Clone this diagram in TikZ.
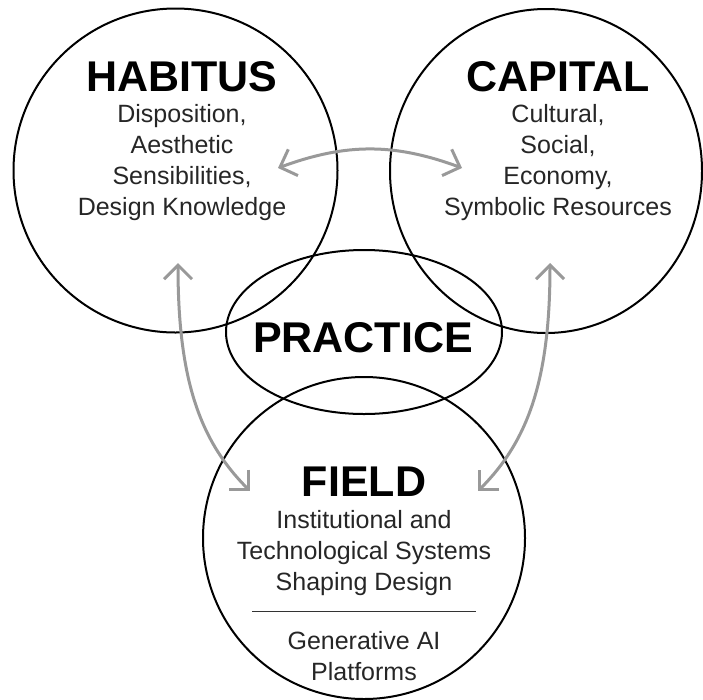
\documentclass[tikz,border=0pt]{standalone}
\usepackage{fontspec}
\setmainfont{Liberation Sans}
\usetikzlibrary{arrows.meta}
\begin{document}
\begin{tikzpicture}[x=1pt,y=-1pt,
    ring/.style={line width=2pt},
    link/.style={line width=3pt, color=black!40},
    title/.style={font=\fontsize{43}{43}\selectfont\bfseries, inner sep=0pt, anchor=base},
    body/.style={font=\fontsize{25}{31}\selectfont, text=black!85, align=center, inner sep=0pt, anchor=north}]
    \useasboundingbox (0,0) rectangle (703,699);
    \draw[ring] (175.5,170.5) circle (162); % habitus
    \draw[ring] (546,171) ellipse (156 and 162); % capital
    \draw[ring] (364,332) ellipse (138 and 82); % practice
    \draw[ring] (364,538) circle (161); % field
    \node[title] (habitus) at (182,91.5) {HABITUS};
    \node[body] (habitusText) at (182,104) {Disposition,\\Aesthetic\\Sensibilities,\\Design Knowledge};
    \node[title] (capital) at (558,91.5) {CAPITAL};
    \node[body] (capitalText) at (558,104) {Cultural,\\Social,\\Economy,\\Symbolic Resources};
    \node[title] (practice) at (363,352) {PRACTICE};
    \node[title] (field) at (364,496.5) {FIELD};
    \node[body] (fieldText) at (364,510) {Institutional and\\Technological Systems\\Shaping Design};
    \node[body] (fieldAI) at (364,631) {Generative AI\\Platforms};
    \draw[line width=1pt, black!80] (252,611) -- (476,611); % separator
    \coordinate (hR) at (278,168);
    \coordinate (cL) at (462,168);
    \coordinate (hB) at (178,263);
    \coordinate (cB) at (550,263);
    \coordinate (fL) at (250,491);
    \coordinate (fR) at (478,491);
    \draw[link][{Straight Barb[length=14pt,width=28pt]}-{Straight Barb[length=14pt,width=28pt]}] (hR) .. controls (346,143) and (394,143) .. (cL); % habitus - capital
    \draw[link][{Straight Barb[length=14pt,width=28pt]}-{Straight Barb[length=14pt,width=28pt]}] (hB) .. controls (178,380) and (200,441) .. (fL); % habitus - field
    \draw[link][{Straight Barb[length=14pt,width=28pt]}-{Straight Barb[length=14pt,width=28pt]}] (cB) .. controls (550,380) and (528,441) .. (fR); % capital - field
\end{tikzpicture}
\end{document}
